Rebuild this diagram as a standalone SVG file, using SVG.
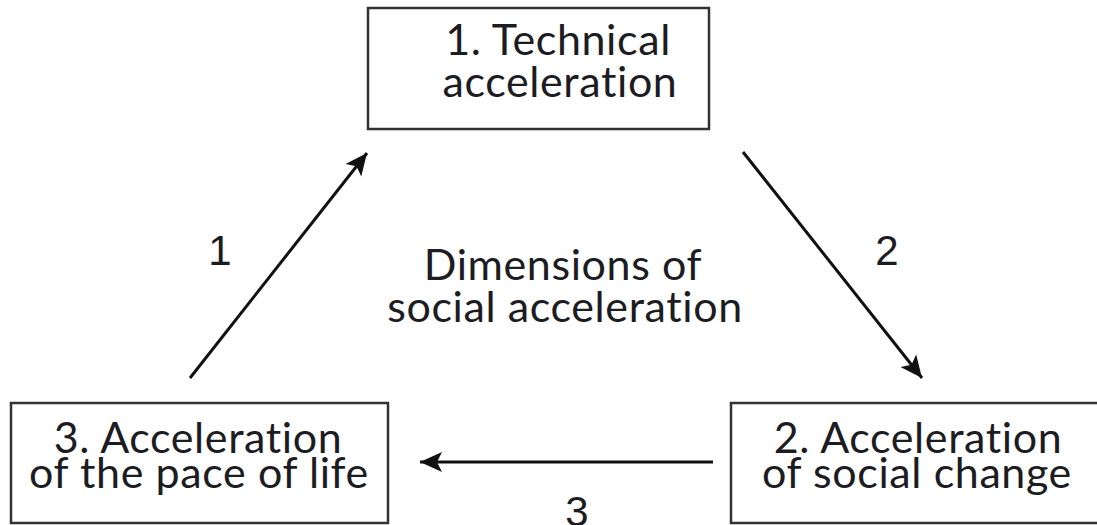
<svg xmlns="http://www.w3.org/2000/svg" width="1097" height="525" viewBox="0 0 1097 525">
<style>
.box{fill:#fff;stroke:#333;stroke-width:2.5}
.t{font-family:Lato,"Noto Sans",sans-serif;font-size:43px;letter-spacing:0.6px;font-variant-ligatures:none;font-feature-settings:"liga" 0;fill:#1c1c22;text-anchor:middle}
.n{font-family:"Liberation Sans",Arial,sans-serif;font-size:42px;fill:#1c1c22;text-anchor:middle}
.c{stroke:#111;stroke-width:3;fill:none;marker-end:url(#ah)}
</style>
<defs>
<marker id="ah" markerUnits="userSpaceOnUse" markerWidth="26" markerHeight="22" refX="22" refY="11" orient="auto" viewBox="0 0 26 22">
<path d="M0,1 L22,11 L0,21 L5,11 Z" fill="#111"/>
</marker>
</defs>
<rect width="1097" height="525" fill="#fff"/>
<g id="node1">
<rect class="box" x="368" y="8" width="341" height="121"/>
<text class="t" x="558" y="55">1. Technical</text>
<text class="t" x="560" y="97">acceleration</text>
</g>
<g id="node2">
<rect class="box" x="731" y="403" width="372" height="120"/>
<text class="t" x="918" y="453">2. Acceleration</text>
<text class="t" x="917" y="488">of social change</text>
</g>
<g id="node3">
<rect class="box" x="11" y="403" width="377" height="120"/>
<text class="t" x="198" y="453">3. Acceleration</text>
<text class="t" x="199" y="488">of the pace of life</text>
</g>
<g id="center">
<text class="t" x="563" y="280">Dimensions of</text>
<text class="t" x="565" y="322">social acceleration</text>
</g>
<g id="connectors">
<line class="c" x1="190" y1="378" x2="367" y2="153"/>
<line class="c" x1="743" y1="152" x2="922" y2="378"/>
<line class="c" x1="713" y1="462" x2="420" y2="462"/>
<text class="n" x="220" y="265">1</text>
<text class="n" x="887" y="265">2</text>
<text class="n" x="577" y="526">3</text>
</g>
</svg>
